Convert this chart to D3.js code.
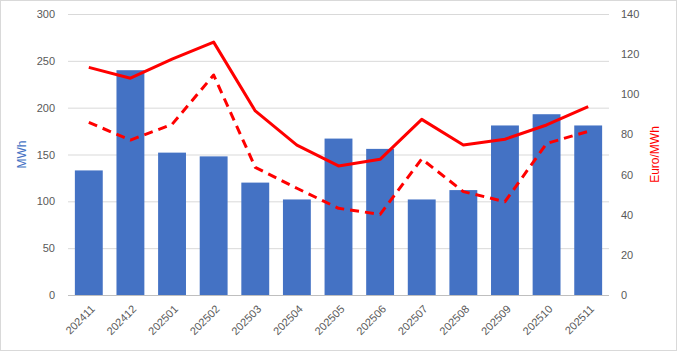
<!DOCTYPE html>
<html lang="en">
<head>
  <meta charset="UTF-8">
  <script src="https://cdn.jsdelivr.net/npm/d3@7"></script>
  <title>MWh and Euro/MWh</title>
  <style>
    body { margin: 0; background: #fff; }
    text { font-family: "Liberation Sans", Arial, sans-serif; }
  </style>
</head>
<body>
  <script>
    // data
    const months = ["202411", "202412", "202501", "202502", "202503", "202504", "202505",
      "202506", "202507", "202508", "202509", "202510", "202511"];
    const mwh = [133, 240, 152, 148, 120, 102, 167, 156, 102, 112, 181, 193, 181];
    const priceSolid = [113.4, 108, 117.5, 126, 91.7, 74.7, 64.3, 67.6, 87.5, 74.7, 77.6, 84.7, 93.8];
    const priceDashed = [86, 77.2, 85, 109.6, 63.6, 53.2, 43.2, 40.2, 67.8, 51.5, 46.5, 75.5, 81.5];
    const leftTicks = [0, 50, 100, 150, 200, 250, 300];
    const rightTicks = [0, 20, 40, 60, 80, 100, 120, 140];

    const width = 677, height = 351;
    const plotL = 68, plotR = 609, plotT = 14, plotB = 295;

    const svg = d3.select("body").append("svg")
      .attr("width", width)
      .attr("height", height);

    // outer frame
    svg.append("rect")
      .attr("x", 0.5).attr("y", 0.5)
      .attr("width", width - 1).attr("height", height - 1)
      .attr("fill", "#fff").attr("stroke", "#d9d9d9");

    const x = d3.scaleBand().domain(months).range([plotL, plotR]).paddingInner(0.33).paddingOuter(0.165);
    const yL = d3.scaleLinear().domain([0, 300]).range([plotB, plotT]);
    const yR = d3.scaleLinear().domain([0, 140]).range([plotB, plotT]);

    // gridlines
    svg.append("g").selectAll("line")
      .data(leftTicks.slice(1))
      .join("line")
      .attr("x1", plotL).attr("x2", plotR)
      .attr("y1", d => yL(d) + 0.5).attr("y2", d => yL(d) + 0.5)
      .attr("stroke", "#d9d9d9");

    // bars
    svg.append("g").selectAll("rect")
      .data(months)
      .join("rect")
      .attr("x", d => x(d))
      .attr("width", x.bandwidth())
      .attr("y", (d, i) => yL(mwh[i]))
      .attr("height", (d, i) => plotB - yL(mwh[i]))
      .attr("fill", "#4472c4");

    // baseline
    svg.append("line")
      .attr("x1", plotL).attr("x2", plotR)
      .attr("y1", plotB + 0.5).attr("y2", plotB + 0.5)
      .attr("stroke", "#bfbfbf");

    const cx = d => x(d) + x.bandwidth() / 2;
    const line = d3.line().x(d => cx(d[0])).y(d => yR(d[1]));

    svg.append("path")
      .attr("d", line(months.map((m, i) => [m, priceDashed[i]])))
      .attr("fill", "none").attr("stroke", "#ff0000")
      .attr("stroke-width", 3).attr("stroke-dasharray", "9,6")
      .attr("stroke-linejoin", "round");

    svg.append("path")
      .attr("d", line(months.map((m, i) => [m, priceSolid[i]])))
      .attr("fill", "none").attr("stroke", "#ff0000")
      .attr("stroke-width", 3)
      .attr("stroke-linejoin", "round");

    // axes
    const axL = svg.append("g")
      .attr("transform", `translate(${plotL},0)`)
      .call(d3.axisLeft(yL).tickValues(leftTicks).tickSize(0).tickPadding(13));
    const axR = svg.append("g")
      .attr("transform", `translate(${plotR},0)`)
      .call(d3.axisRight(yR).tickValues(rightTicks).tickSize(0).tickPadding(12));
    const axB = svg.append("g")
      .attr("transform", `translate(0,${plotB})`)
      .call(d3.axisBottom(x).tickSize(0).tickPadding(0));

    [axL, axR, axB].forEach(a => {
      a.select(".domain").remove();
      a.selectAll("text").attr("fill", "#595959").style("font-size", "11px")
        .style("font-family", "'Liberation Sans', Arial, sans-serif");
    });

    axB.selectAll("text")
      .attr("text-anchor", "end")
      .attr("dy", "0.35em")
      .attr("transform", "translate(4,12) rotate(-45)");

    // axis titles
    svg.append("text")
      .attr("transform", `translate(26,${(plotT + plotB) / 2}) rotate(-90)`)
      .attr("text-anchor", "middle")
      .attr("fill", "#4472c4")
      .style("font-size", "12px")
      .text("MWh");

    svg.append("text")
      .attr("transform", `translate(659,${(plotT + plotB) / 2}) rotate(-90)`)
      .attr("text-anchor", "middle")
      .attr("fill", "#ff0000")
      .style("font-size", "12px")
      .text("Euro/MWh");
  </script>
</body>
</html>
